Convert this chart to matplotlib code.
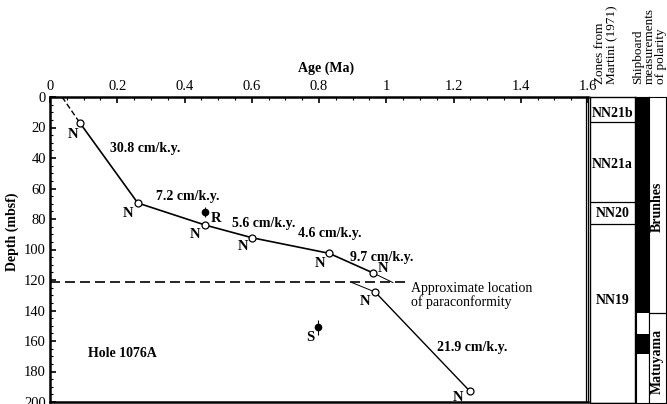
import matplotlib
matplotlib.use("Agg")
import matplotlib.pyplot as plt
from matplotlib.ticker import MultipleLocator
from matplotlib.patches import Rectangle

plt.rcParams['font.family'] = ['Liberation Serif', 'DejaVu Serif']

# ---- data ----
top_dash_age = [0.036, 0.089]
top_dash_depth = [0.0, 17.0]
upper_age = [0.089, 0.261, 0.462, 0.601, 0.830, 0.961]
upper_depth = [17.0, 69.5, 84.0, 92.3, 102.5, 115.4]
upper_ext_age = [0.961, 1.02]
upper_ext_depth = [115.4, 121.7]
lower_ext_age = [0.898, 0.967]
lower_ext_depth = [121.7, 127.9]
lower_age = [0.967, 1.249]
lower_depth = [127.9, 193.0]
filled_age = [0.462, 0.797]
filled_depth = [75.5, 151.0]
filled_err = [3.5, 5.0]
filled_labels = ["R", "S"]
paraconf_depth = 121.5
paraconf_age = [0.0, 1.07]
rate_labels = ["30.8 cm/k.y.", "7.2 cm/k.y.", "5.6 cm/k.y.", "4.6 cm/k.y.", "9.7 cm/k.y.", "21.9 cm/k.y."]
rate_age = [0.178, 0.315, 0.540, 0.738, 0.892, 1.150]
rate_depth = [34.0, 65.5, 83.0, 89.5, 105.0, 164.0]
zone_names = ["NN21b", "NN21a", "NN20", "NN19"]
zone_top = [0.0, 16.4, 68.9, 83.3]
zone_bottom = [16.4, 68.9, 83.3, 200.0]
zone_label_depth = [10.5, 44.0, 76.0, 133.0]
polarity_top = [0.0, 141.0, 155.0, 168.0]
polarity_bottom = [141.0, 155.0, 168.0, 200.0]
polarity_black = [True, False, True, False]
chron_names = ["Brunhes", "Matuyama"]
chron_top = [0.0, 141.0]
chron_bottom = [141.0, 200.0]
chron_label_depth = [72.0, 173.0]
xticks = [0, 0.2, 0.4, 0.6, 0.8, 1.0, 1.2, 1.4, 1.6]
xticklabels = ["0", "0.2", "0.4", "0.6", "0.8", "1", "1.2", "1.4", "1.6"]
yticks = [0, 20, 40, 60, 80, 100, 120, 140, 160, 180, 200]

W, H = 667, 404
fig = plt.figure(figsize=(W / 100, H / 100), dpi=100)

def box(x0, x1, y0, y1):
    return [x0 / W, 1 - y1 / H, (x1 - x0) / W, (y1 - y0) / H]

ax = fig.add_axes(box(50, 588, 97, 402))
ax.set_xlim(0, 1.6)
ax.set_ylim(200, 0)

# lines
ax.plot(top_dash_age, top_dash_depth, color='black', lw=1.0, ls=(0, (4, 2)))
ax.plot(upper_age, upper_depth, color='black', lw=1.2)
ax.plot(upper_ext_age, upper_ext_depth, color='black', lw=0.7)
ax.plot(lower_ext_age, lower_ext_depth, color='black', lw=0.7)
ax.plot(lower_age, lower_depth, color='black', lw=1.0)
ax.plot(paraconf_age, [paraconf_depth] * 2, color='black', lw=1.2, ls=(0, (6, 3)))

# open circles
oc_age = upper_age + [lower_age[0], lower_age[-1]]
oc_depth = upper_depth + [lower_depth[0], lower_depth[-1]]
ax.plot(oc_age, oc_depth, ls='none', marker='o', ms=5, mfc='white', mec='black', mew=0.9, zorder=5)

# N labels with pixel offsets
n_offsets = [(-7, -12), (-10, -11), (-10, -9), (-9, -9), (-9, -10), (10, 4), (-10, -9), (-12, -6)]
for a, d, (dx, dy) in zip(oc_age, oc_depth, n_offsets):
    ax.annotate("N", (a, d), xytext=(dx, dy), textcoords='offset pixels',
                ha='center', va='center', fontsize=10.5, fontweight='bold')

# filled points with error bars
ax.errorbar(filled_age, filled_depth, yerr=filled_err, fmt='o', color='black', ms=4.5,
            elinewidth=0.8, capsize=0, zorder=5)
ax.annotate(filled_labels[0], (filled_age[0], filled_depth[0]), xytext=(11, -6),
            textcoords='offset pixels', ha='center', va='center', fontsize=10.5, fontweight='bold')
ax.annotate(filled_labels[1], (filled_age[1], filled_depth[1]), xytext=(-8, -10),
            textcoords='offset pixels', ha='center', va='center', fontsize=10.5, fontweight='bold')

for t, a, d in zip(rate_labels, rate_age, rate_depth):
    ax.text(a, d, t, ha='left', va='center', fontsize=10, fontweight='bold')

ax.text(1.075, paraconf_depth, "Approximate location\nof paraconformity", ha='left', va='top',
        fontsize=10, linespacing=1.0)
ax.text(0.113, 168.5, "Hole 1076A", ha='left', va='center', fontsize=10, fontweight='bold')

# axes styling
ax.xaxis.tick_top()
ax.set_xticks(xticks)
ax.set_xticklabels(xticklabels)
ax.set_yticks(yticks)
ax.xaxis.set_minor_locator(MultipleLocator(0.05))
ax.yaxis.set_minor_locator(MultipleLocator(5))
ax.tick_params(which='both', direction='in', labelsize=10.5, top=True, bottom=False, right=False)
ax.tick_params(which='major', length=4, width=1.2, pad=3)
ax.tick_params(which='minor', length=2, width=0.8)
for s in ['left', 'top', 'bottom']:
    ax.spines[s].set_linewidth(1.8)
ax.spines['right'].set_linewidth(0.9)
ax.xaxis.set_label_position('top')
ax.set_xlabel("Age (Ma)", fontsize=10, fontweight='bold', labelpad=1)
ax.xaxis.set_label_coords((326 - 50) / 538, 1 + (97 - 72) / 305)
ax.set_ylabel("Depth (mbsf)", fontsize=10, fontweight='bold')
ax.yaxis.set_label_coords((19 - 50) / 538, 1 - (232 - 97) / 305)

# extra line for double right edge
fig.add_artist(plt.Line2D([585.5 / W, 585.5 / W], [1 - 402 / H, 1 - 97 / H], color='black', lw=0.9))

# zone column
axz = fig.add_axes(box(590, 635, 97, 403))
axz.set_xlim(0, 1)
axz.set_ylim(200, 0)
axz.set_xticks([]); axz.set_yticks([])
for t, b in zip(zone_top, zone_bottom):
    axz.axhline(b, color='black', lw=0.9)
for n, d in zip(zone_names, zone_label_depth):
    axz.text(0.5, d, n, ha='center', va='center', fontsize=10, fontweight='bold')
for s in axz.spines.values():
    s.set_linewidth(1.0)

# polarity column
axp = fig.add_axes(box(636, 649, 97, 403))
axp.set_xlim(0, 1)
axp.set_ylim(200, 0)
axp.set_xticks([]); axp.set_yticks([])
for t, b, blk in zip(polarity_top, polarity_bottom, polarity_black):
    axp.add_patch(Rectangle((0, t), 1, b - t, facecolor='black' if blk else 'white', edgecolor='none'))
for s in axp.spines.values():
    s.set_linewidth(0.8)

# chron column
axc = fig.add_axes(box(649, 666, 97, 403))
axc.set_xlim(0, 1)
axc.set_ylim(200, 0)
axc.set_xticks([]); axc.set_yticks([])
for b in chron_bottom[:-1]:
    axc.axhline(b, color='black', lw=0.9)
for n, d in zip(chron_names, chron_label_depth):
    axc.text(0.5, d, n, ha='center', va='center', rotation=90, fontsize=10, fontweight='bold')
for s in axc.spines.values():
    s.set_linewidth(0.8)

# column headers
hdr_y = 1 - 84 / H
hdr_fs = 9.5
fig.text(600 / W, hdr_y, "Zones from", rotation=90, ha='center', va='bottom', fontsize=hdr_fs)
fig.text(612 / W, hdr_y, "Martini (1971)", rotation=90, ha='center', va='bottom', fontsize=hdr_fs)
fig.text(638 / W, hdr_y, "Shipboard", rotation=90, ha='center', va='bottom', fontsize=hdr_fs)
fig.text(650 / W, hdr_y, "measurements", rotation=90, ha='center', va='bottom', fontsize=hdr_fs)
fig.text(661 / W, hdr_y, "of polarity", rotation=90, ha='center', va='bottom', fontsize=hdr_fs)

fig.savefig("out.png", dpi=100)
